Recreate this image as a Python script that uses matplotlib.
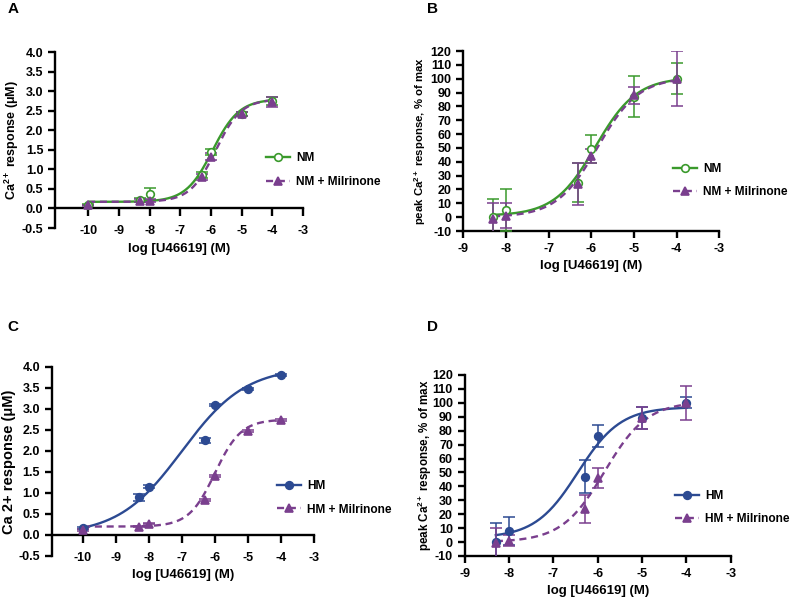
import matplotlib
matplotlib.use("Agg")
import matplotlib.pyplot as plt
import numpy as np

plt.rcParams.update({
    "font.family": ["Liberation Sans", "DejaVu Sans"],
    "font.weight": "bold",
    "axes.labelweight": "bold",
    "axes.unicode_minus": False,
    "mathtext.fontset": "custom",
    "mathtext.rm": "Liberation Sans:bold",
    "mathtext.it": "Liberation Sans:bold",
    "mathtext.bf": "Liberation Sans:bold",
    "mathtext.default": "rm",
})

GREEN = "#3a9a2c"
PURPLE = "#7a3f8e"
BLUE = "#2c4a92"

# ── data ─────────────────────────────────────────────────────────────
# Panel A: Ca2+ response (uM), NM
a_x = [-10, -8.3, -8, -6.3, -6, -5, -4]
a_nm = [0.10, 0.22, 0.37, 0.85, 1.45, 2.42, 2.76]
a_nm_err = [0.02, 0.05, 0.15, 0.08, 0.08, 0.06, 0.10]
a_mil = [0.08, 0.20, 0.20, 0.80, 1.33, 2.42, 2.73]
a_mil_err = [0.02, 0.04, 0.04, 0.08, 0.08, 0.05, 0.12]
# fit params: bottom, top, logEC50, hill
a_nm_fit = (0.17, 2.80, -5.95, 1.0)
a_mil_fit = (0.17, 2.80, -5.85, 1.05)

# Panel B: % of max, NM
b_x = [-8.3, -8, -6.3, -6, -5, -4]
b_nm = [0, 5, 25, 49, 87, 100]
b_nm_err = [13, 15, 14, 10, 15, 11]
b_mil = [-1, 1, 24, 44, 88, 100]
b_mil_err = [11, 9, 15, 5, 6, 20]
b_nm_fit = (1, 101, -5.9, 0.9)
b_mil_fit = (0, 101, -5.85, 0.9)

# Panel C: Ca2+ response (uM), HM
c_x = [-10, -8.3, -8, -6.3, -6, -5, -4]
c_hm = [0.17, 0.90, 1.15, 2.25, 3.10, 3.47, 3.80]
c_hm_err = [0.02, 0.08, 0.03, 0.07, 0.02, 0.02, 0.02]
c_mil = [0.12, 0.20, 0.27, 0.83, 1.40, 2.48, 2.73]
c_mil_err = [0.02, 0.02, 0.02, 0.03, 0.03, 0.02, 0.02]
c_hm_fit = (0.0, 4.0, -7.0, 0.45)
c_mil_fit = (0.2, 2.75, -6.0, 1.1)

# Panel D: % of max, HM
d_x = [-8.3, -8, -6.3, -6, -5, -4]
d_hm = [0, 8, 47, 76, 89, 100]
d_hm_err = [14, 10, 12, 8, 8, 4]
d_mil = [-1, 1, 24, 46, 89, 100]
d_mil_err = [11, 4, 10, 7, 8, 12]
d_hm_fit = (3, 97, -6.45, 0.9)
d_mil_fit = (0, 101, -5.85, 0.9)

X_LABEL = "log [U46619] (M)"
X_TICKS_WIDE = [-10, -9, -8, -7, -6, -5, -4, -3]
X_TICKS_NARROW = [-9, -8, -7, -6, -5, -4, -3]


def hill(x, bottom, top, logec50, h):
    return bottom + (top - bottom) / (1 + 10 ** ((logec50 - x) * h))


def add_series(ax, x, y, err, fit, color, marker, mfc, ls, label, xmin):
    xs = np.linspace(xmin, max(x), 200)
    ax.plot(xs, hill(xs, *fit), color=color, lw=1.7, ls=ls, zorder=3)
    ax.errorbar(x, y, yerr=err, fmt="none", ecolor=color, elinewidth=1.1,
                capsize=4, capthick=1.1, zorder=4)
    ax.plot(x, y, ls="none", marker=marker, ms=5.5, color=color, mfc=mfc,
            mew=1.2, zorder=5)
    # legend proxy: line + marker
    ax.plot([], [], color=color, ls=ls, lw=1.7, marker=marker, ms=5.5,
            mfc=mfc, mew=1.2, label=label)


def style_axis(ax, xlim, xticks, ylim, yticks, fmt, ylabel, ylabel_size,
               ylabel_x, spine_at_zero, leg_anchor):
    ax.set_xlim(*xlim)
    ax.set_ylim(*ylim)
    ax.set_yticks(yticks)
    ax.set_yticklabels([fmt.format(v) for v in yticks])
    ax.set_xticks(xticks)
    for s in ("top", "right"):
        ax.spines[s].set_visible(False)
    for s in ("left", "bottom"):
        ax.spines[s].set_linewidth(1.7)
    ax.tick_params(direction="out", width=1.7, length=5, labelsize=9)
    if spine_at_zero:
        ax.spines["bottom"].set_position(("data", 0))
        ax.tick_params(axis="x", length=6, pad=6)
    ax.set_xlabel(X_LABEL, fontsize=9.5)
    ax.set_ylabel(ylabel, fontsize=ylabel_size)
    ax.yaxis.set_label_coords(ylabel_x, 0.5)
    ax.yaxis.label.set_verticalalignment("center")
    ax.legend(loc="center left", bbox_to_anchor=leg_anchor, frameon=False,
              fontsize=8.6, handlelength=2.0, handletextpad=0.5,
              borderpad=0, borderaxespad=0, labelspacing=0.95)


fig = plt.figure(figsize=(8.0, 6.04), dpi=100)

axA = fig.add_axes([0.069, 0.6225, 0.310, 0.291])
add_series(axA, a_x, a_nm, a_nm_err, a_nm_fit, GREEN, "o", "white", "-", "NM", -10)
add_series(axA, a_x, a_mil, a_mil_err, a_mil_fit, PURPLE, "^", PURPLE, (0, (3, 2)),
           "NM + Milrinone", -10)
style_axis(axA, (-11.07, -3), X_TICKS_WIDE, (-0.5, 4.0),
           np.arange(-0.5, 4.01, 0.5), "{:.1f}",
           "Ca$^{2+}$ response (μM)", 9, -0.173, True, (0.85, 0.33))

axB = fig.add_axes([0.579, 0.6175, 0.320, 0.298])
add_series(axB, b_x, b_nm, b_nm_err, b_nm_fit, GREEN, "o", "white", "-", "NM", -8.3)
add_series(axB, b_x, b_mil, b_mil_err, b_mil_fit, PURPLE, "^", PURPLE, (0, (3, 2)),
           "NM + Milrinone", -8.3)
style_axis(axB, (-9, -3), X_TICKS_NARROW, (-10, 120), np.arange(-10, 121, 10),
           "{:.0f}", "peak Ca$^{2+}$ response, % of max", 8.2, -0.168, False,
           (0.82, 0.28))

axC = fig.add_axes([0.065, 0.0795, 0.3275, 0.313])
add_series(axC, c_x, c_hm, c_hm_err, c_hm_fit, BLUE, "o", BLUE, "-", "HM", -10)
add_series(axC, c_x, c_mil, c_mil_err, c_mil_fit, PURPLE, "^", PURPLE, (0, (3, 2)),
           "HM + Milrinone", -10)
style_axis(axC, (-10.94, -3), X_TICKS_WIDE, (-0.5, 4.0),
           np.arange(-0.5, 4.01, 0.5), "{:.1f}",
           "Ca 2+ response (μM)", 10.5, -0.165, True, (0.86, 0.307))

axD = fig.add_axes([0.581, 0.0795, 0.3325, 0.2997])
add_series(axD, d_x, d_hm, d_hm_err, d_hm_fit, BLUE, "o", BLUE, "-", "HM", -8.3)
add_series(axD, d_x, d_mil, d_mil_err, d_mil_fit, PURPLE, "^", PURPLE, (0, (3, 2)),
           "HM + Milrinone", -8.3)
style_axis(axD, (-9, -3), X_TICKS_NARROW, (-10, 120), np.arange(-10, 121, 10),
           "{:.0f}", "peak Ca$^{2+}$ response, % of max", 8.4, -0.15, False,
           (0.79, 0.268))

# panel letters
for letter, (px, py) in zip("ABCD", [(8, 9), (427, 9), (7, 327), (427, 327)]):
    fig.text(px / 800, 1 - py / 604, letter, fontsize=11, fontweight="bold",
             va="center", ha="left")

fig.savefig("out.png", dpi=100)
